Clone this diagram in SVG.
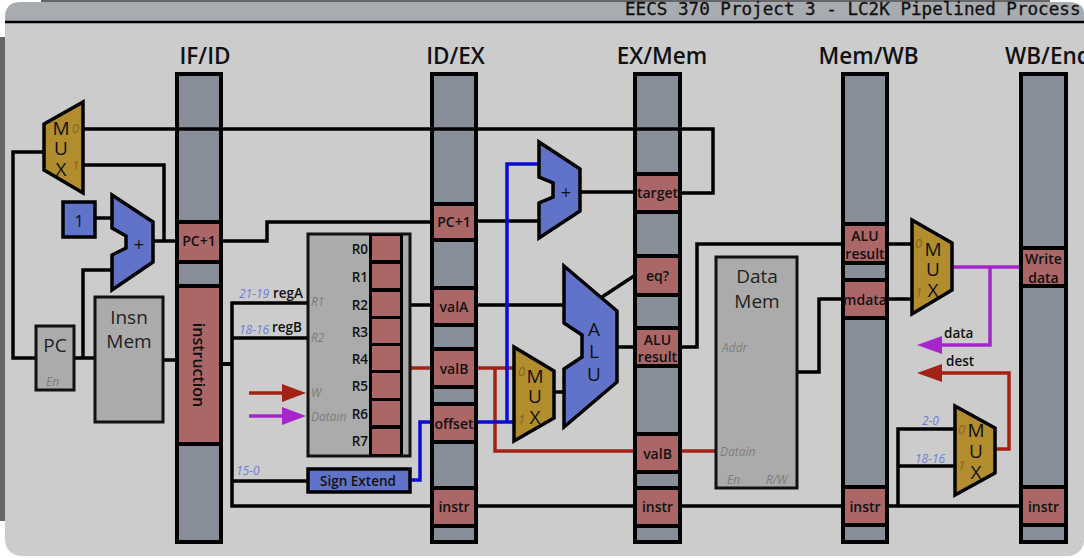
<svg xmlns="http://www.w3.org/2000/svg" width="1084" height="558" viewBox="0 0 1084 558">
<style>
text{font-family:"Open Sans","Noto Sans","Liberation Sans",sans-serif;fill:#111}
.reg{fill:#878d99;stroke:#000;stroke-width:4}
.cell{fill:#ab6767;stroke:#000;stroke-width:4}
.mux{fill:#b28d2e;stroke:#000;stroke-width:3.5}
.blue{fill:#6173c9;stroke:#000;stroke-width:3.5}
.gray{fill:#ababab;stroke:#111;stroke-width:3}
.w{fill:none;stroke:#000;stroke-width:3.5}
.wb{fill:none;stroke:#000;stroke-width:4}
.bl{fill:none;stroke:#0b0bd2;stroke-width:3.5}
.rd{fill:none;stroke:#a32215;stroke-width:3.5}
.pu{fill:none;stroke:#a726cc;stroke-width:3.5}
.h{font-size:22.500px;font-weight:600;text-anchor:middle}
.c{font-size:14px;font-weight:600;text-anchor:middle}
.m{font-size:19px;text-anchor:middle}
.big{font-size:19px;text-anchor:middle;fill:#222}
.p{font-size:12px;font-style:italic;fill:#7d7d7d}
.n{font-size:13px;font-style:italic;fill:#8a6420}
.b{font-size:12px;font-style:italic;fill:#6c7fd6}
.l{font-size:13.500px;font-weight:600}
</style>
<rect width="1084" height="558" fill="#fff"/>
<rect x="0" y="0" width="1084" height="521" fill="#666"/>
<rect x="5" y="2" width="1079" height="554" rx="16" fill="#cccccc"/>
<path d="M5 22V18Q5 2 21 2H1084V22Z" fill="#a8abaf"/>
<path d="M5 22H1084" stroke="#000" stroke-width="2.5"/>
<text x="625" y="15" font-size="17.600" style="font-family:'DejaVu Sans Mono',monospace;font-weight:500" stroke="#111" stroke-width=".3">EECS 370 Project 3 - LC2K Pipelined Process</text>

<g id="connectors">
<path class="w" d="M44 152H13V358H36"/>
<path class="w" d="M83 129H713V193H682"/>
<path class="w" d="M83 165H164V241"/>
<path class="w" d="M153 241H177"/>
<path class="w" d="M95 218H112"/>
<path class="w" d="M75 358H95M83 358V270H112"/>
<path class="w" d="M163 360H177"/>
<path class="w" d="M221 241H267V222H430"/>
<path class="wb" d="M221 364H232"/>
<path class="w" d="M307 303H232V506H430M232 338H307M232 481H307"/>
<path class="w" d="M477 506H633M682 506H841M889 506H1019"/>
<path class="w" d="M898 506V429H955M898 466H955"/>
<path class="w" d="M410 305H430M477 305H564"/>
<path class="w" d="M477 221H539"/>
<path class="w" d="M580 192H634"/>
<path class="w" d="M602 297L634 276"/>
<path class="w" d="M617 347H634"/>
<path class="w" d="M554 392H564"/>
<path class="w" d="M682 347H697V244H841"/>
<path class="w" d="M797 372H819V299H841"/>
<path class="w" d="M889 244H912M889 299H912"/>
<path class="rd" d="M410 368H430M477 368H514M495 368V451H633M682 451H716"/>
<path class="bl" d="M410 480H420V422H430"/>
<path class="bl" d="M477 422H514M507 422V164H539"/>
<path class="pu" d="M952 267H1019M990 267V345H940"/>
<polygon points="917,345 942,336 942,354" fill="#a726cc"/>
<path class="rd" d="M995 449H1009V373H940"/>
<polygon points="917,373 942,364 942,382" fill="#a32215"/>
<path class="rd" d="M249 393H283"/>
<polygon points="306,393 282,384 282,402" fill="#a32215"/>
<path class="pu" d="M249 416H283"/>
<polygon points="306,416 282,407 282,425" fill="#a726cc"/>
</g>

<g id="reg-ifid">
<rect class="reg" x="177" y="74" width="44" height="468"/>
<path class="w" d="M177 129H221"/>
<rect class="cell" x="177" y="222" width="44" height="40"/>
<text class="c" x="199" y="246">PC+1</text>
<rect class="cell" x="177" y="286" width="44" height="158"/>
<text class="c" x="199" y="365" style="font-size:16px" transform="rotate(90 199 365)" dominant-baseline="central">instruction</text>
<text class="h" x="205" y="64">IF/ID</text>
</g>
<g id="reg-idex">
<rect class="reg" x="432" y="74" width="44" height="468"/>
<path class="w" d="M432 129H476"/>
<rect class="cell" x="432" y="204" width="44" height="36"/>
<text class="c" x="454" y="227">PC+1</text>
<rect class="cell" x="432" y="288" width="44" height="37"/>
<text class="c" x="454" y="312">valA</text>
<rect class="cell" x="432" y="349" width="44" height="38"/>
<text class="c" x="454" y="374">valB</text>
<rect class="cell" x="432" y="404" width="44" height="38"/>
<text class="c" x="454" y="429">offset</text>
<rect class="cell" x="432" y="488" width="44" height="38"/>
<text class="c" x="454" y="512">instr</text>
<text class="h" x="455.500" y="64">ID/EX</text>
</g>
<g id="reg-exmem">
<rect class="reg" x="635" y="74" width="45" height="468"/>
<path class="w" d="M635 129H680"/>
<rect class="cell" x="635" y="174" width="45" height="38"/>
<text class="c" x="657.500" y="198">target</text>
<rect class="cell" x="635" y="256" width="45" height="39"/>
<text class="c" x="657.500" y="281">eq?</text>
<rect class="cell" x="635" y="328" width="45" height="38"/>
<text class="c" x="657.500" y="345">ALU</text>
<text class="c" x="657.500" y="362">result</text>
<rect class="cell" x="635" y="434" width="45" height="38"/>
<text class="c" x="657.500" y="459">valB</text>
<rect class="cell" x="635" y="488" width="45" height="38"/>
<text class="c" x="657.500" y="512">instr</text>
<text class="h" x="662" y="64">EX/Mem</text>
</g>
<g id="reg-memwb">
<rect class="reg" x="843" y="74" width="44" height="468"/>
<rect class="cell" x="843" y="224" width="44" height="39"/>
<text class="c" x="865" y="241">ALU</text>
<text class="c" x="865" y="259">result</text>
<rect class="cell" x="843" y="280" width="44" height="38"/>
<text class="c" x="865" y="305">mdata</text>
<rect class="cell" x="843" y="487" width="44" height="38"/>
<text class="c" x="865" y="512">instr</text>
<text class="h" x="868.500" y="64">Mem/WB</text>
</g>
<g id="reg-wb">
<rect class="reg" x="1021" y="74" width="45" height="468"/>
<rect class="cell" x="1021" y="248" width="45" height="38"/>
<text class="c" x="1043.500" y="264">Write</text>
<text class="c" x="1043.500" y="283">data</text>
<rect class="cell" x="1021" y="487" width="45" height="38"/>
<text class="c" x="1043.500" y="512">instr</text>
<text class="h" x="1005" y="64" style="text-anchor:start">WB/End</text>
</g>

<g id="mux-pc">
<polygon class="mux" points="44,124 83,102 83,193 44,170"/>
<text class="m" x="61" y="135">M</text><text class="m" x="61" y="155">U</text><text class="m" x="61" y="176">X</text>
<text class="n" x="72" y="133">0</text><text class="n" x="72" y="170">1</text>
</g>
<g id="const-1">
<rect class="blue" x="63" y="202" width="32" height="35"/>
<text class="m" x="79" y="227" style="font-size:17px">1</text>
</g>
<g id="adder-pc">
<polygon class="blue" points="112,195 153,222 153,262 112,290 112,255 126,248 126,236 112,228"/>
<text class="m" x="139" y="251" style="font-size:18px">+</text>
</g>
<g id="pc">
<rect class="gray" x="36" y="326" width="38" height="64"/>
<text class="big" x="55" y="352">PC</text>
<text class="p" x="46" y="386">En</text>
</g>
<g id="insn-mem">
<rect class="gray" x="95" y="297" width="68" height="125"/>
<text class="big" x="129" y="324">Insn</text>
<text class="big" x="129" y="348">Mem</text>
</g>
<g id="regfile">
<rect class="gray" x="308" y="234" width="102" height="222"/>
<rect x="369" y="234" width="34" height="222" fill="#000"/>
<g fill="#ab6767">
<rect x="372" y="236" width="28" height="24"/>
<rect x="372" y="264" width="28" height="24"/>
<rect x="372" y="292" width="28" height="24"/>
<rect x="372" y="319" width="28" height="24"/>
<rect x="372" y="346" width="28" height="24"/>
<rect x="372" y="373" width="28" height="25"/>
<rect x="372" y="401" width="28" height="24"/>
<rect x="372" y="429" width="28" height="25"/>
</g>
<text class="l" x="368" y="254" text-anchor="end">R0</text>
<text class="l" x="368" y="282" text-anchor="end">R1</text>
<text class="l" x="368" y="310" text-anchor="end">R2</text>
<text class="l" x="368" y="337" text-anchor="end">R3</text>
<text class="l" x="368" y="364" text-anchor="end">R4</text>
<text class="l" x="368" y="391" text-anchor="end">R5</text>
<text class="l" x="368" y="419" text-anchor="end">R6</text>
<text class="l" x="368" y="446" text-anchor="end">R7</text>
<text class="p" x="311" y="306">R1</text>
<text class="p" x="311" y="342">R2</text>
<text class="p" x="311" y="397">W</text>
<text class="p" x="311" y="421">Datain</text>
</g>
<g id="reg-labels">
<text class="b" x="239" y="298">21-19</text>
<text class="l" x="273" y="298">regA</text>
<text class="b" x="239" y="334">18-16</text>
<text class="l" x="272" y="332">regB</text>
<text class="b" x="236" y="475">15-0</text>
</g>
<g id="sign-extend">
<rect class="blue" x="308" y="469" width="102" height="23"/>
<text class="c" x="358" y="486" style="font-size:13.500px">Sign Extend</text>
</g>
<g id="adder-branch">
<polygon class="blue" points="539,142 580,169 580,211 539,238 539,203 553,197 553,183 539,177"/>
<text class="m" x="566" y="199" style="font-size:18px">+</text>
</g>
<g id="mux-alu">
<polygon class="mux" points="514,347 554,371 554,418 514,441"/>
<text class="m" x="535" y="383">M</text><text class="m" x="535" y="403">U</text><text class="m" x="535" y="424">X</text>
<text class="n" x="518" y="376">0</text><text class="n" x="518" y="424">1</text>
</g>
<g id="alu">
<polygon class="blue" points="564,266 617,311 617,382 564,427 564,369 582,357 582,335 564,323"/>
<text class="m" x="594" y="336">A</text><text class="m" x="594" y="358">L</text><text class="m" x="594" y="381">U</text>
</g>
<g id="data-mem">
<rect class="gray" x="716" y="257" width="81" height="231"/>
<text class="big" x="757" y="283">Data</text>
<text class="big" x="757" y="308">Mem</text>
<text class="p" x="722" y="352">Addr</text>
<text class="p" x="720" y="456">Datain</text>
<text class="p" x="727" y="484">En</text>
<text class="p" x="766" y="484">R/W</text>
</g>
<g id="mux-wb">
<polygon class="mux" points="912,220 952,243 952,290 912,314"/>
<text class="m" x="933" y="256">M</text><text class="m" x="933" y="276">U</text><text class="m" x="933" y="297">X</text>
<text class="n" x="915" y="248">0</text><text class="n" x="915" y="297">1</text>
</g>
<g id="mux-dest">
<polygon class="mux" points="955,406 995,428 995,473 955,495"/>
<text class="m" x="976" y="437">M</text><text class="m" x="976" y="458">U</text><text class="m" x="976" y="479">X</text>
<text class="n" x="958" y="434">0</text><text class="n" x="958" y="470">1</text>
<text class="b" x="922" y="425">2-0</text>
<text class="b" x="915" y="463">18-16</text>
</g>
<g id="wb-labels">
<text class="l" x="944" y="338">data</text>
<text class="l" x="946" y="366">dest</text>
</g>
<g id="corners" fill="#fff">
<path d="M0 0H41V2H21Q5 2 5 18V37H0Z"/>
<path d="M1050 0H1084V14Q1084 2 1068 2H1050Z"/>
<path d="M0 521H5V540Q5 556 21 556H0Z"/>
</g>
</svg>
